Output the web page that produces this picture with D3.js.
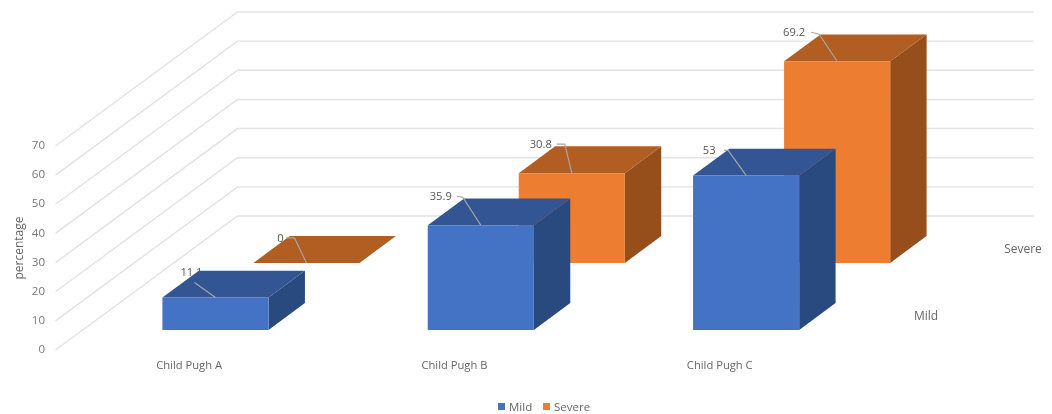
<!DOCTYPE html>
<html>
<head>
<meta charset="utf-8">
<script src="https://cdnjs.cloudflare.com/ajax/libs/d3/7.8.5/d3.min.js"></script>
<style>
  html, body { margin: 0; padding: 0; background: #fff; }
  svg { display: block; filter: blur(0.6px); }
  text { font-family: "Open Sans", "Noto Sans", sans-serif; fill: #666; }
</style>
</head>
<body>
<svg id="chart"></svg>
<script>
var categories = ["Child Pugh A", "Child Pugh B", "Child Pugh C"];
var seriesNames = ["Mild", "Severe"];
var mildValues = [11.1, 35.9, 53];
var severeValues = [0, 30.8, 69.2];
var yTicks = [0, 10, 20, 30, 40, 50, 60, 70];

var svgWidth = 1052;
var svgHeight = 414;

var colors = {
  Mild: { front: "#4472c4", top: "#335593", side: "#294a7f" },
  Severe: { front: "#ed7d31", top: "#b25d22", side: "#964f1b" }
};

// how far the floor runs back, in pixels
var depthX = 182;
var depthY = 134;

var svg = d3.select("#chart")
  .attr("width", svgWidth)
  .attr("height", svgHeight);

var x = d3.scaleBand()
  .domain(categories)
  .range([55.5, 851.5])
  .paddingInner(0.6)
  .paddingOuter(0.3);

var y = d3.scaleLinear()
  .domain([0, 70])
  .range([350, 146]);

// series run into the page, 0 = front of floor, 1 = back wall
var z = d3.scaleBand()
  .domain(seriesNames)
  .range([0, 1])
  .paddingInner(0.6)
  .paddingOuter(0.3);

function project(px, value, depth) {
  return [px + depth * depthX, y(value) - depth * depthY];
}

var line = d3.line();

// Gridlines
svg.append("g")
  .selectAll("path")
  .data(yTicks)
  .enter()
  .append("path")
    .attr("d", function(d) {
      return line([project(x.range()[0], d, 0), project(x.range()[0], d, 1), project(x.range()[1], d, 1)]);
    })
    .attr("fill", "none")
    .attr("stroke", "#e2e2e2")
    .attr("stroke-width", 1.4);

// Y axis
var yAxis = svg.append("g")
  .attr("transform", "translate(48,-1)")
  .call(d3.axisLeft(y).tickValues(yTicks).tickSize(0).tickPadding(3).tickFormat(d3.format("d")));
yAxis.select(".domain").remove();
yAxis.selectAll("text")
  .style("font-family", '"Open Sans", sans-serif')
  .style("font-size", "11.5px")
  .style("fill", "#777");

svg.append("text")
  .attr("transform", "translate(19,248) rotate(-90)")
  .attr("text-anchor", "middle")
  .attr("dy", "0.35em")
  .style("font-size", "12px")
  .text("percentage");

// Bars, back series first so the front one covers it
var bars = [];
seriesNames.slice().reverse().forEach(function(name) {
  var values = name === "Mild" ? mildValues : severeValues;
  categories.forEach(function(cat, i) {
    bars.push({ series: name, category: cat, index: i, value: values[i] });
  });
});

var barGroups = svg.append("g")
  .selectAll("g")
  .data(bars)
  .enter()
  .append("g");

function face(d, pts) {
  return line(pts.map(function(p) {
    return project(x(d.category) + p[0] * x.bandwidth(), p[1] * d.value, z(d.series) + p[2] * z.bandwidth());
  })) + "Z";
}

barGroups.append("path")
  .attr("d", function(d) { return face(d, [[1, 0, 0], [1, 0, 1], [1, 1, 1], [1, 1, 0]]); })
  .attr("fill", function(d) { return colors[d.series].side; });
barGroups.append("path")
  .attr("d", function(d) { return face(d, [[0, 1, 0], [0, 1, 1], [1, 1, 1], [1, 1, 0]]); })
  .attr("fill", function(d) { return colors[d.series].top; });
barGroups.append("path")
  .attr("d", function(d) { return face(d, [[0, 0, 0], [1, 0, 0], [1, 1, 0], [0, 1, 0]]); })
  .attr("fill", function(d) { return colors[d.series].front; });

// Data labels with leader lines, placed by hand relative to the top front edge
var labelNudges = {
  "Mild": [
    { text: [-24, -25], end: [-21, -15], joint: [-21, -15] },
    { text: [-40, -29], end: [-24, -29], joint: [-18, -28] },
    { text: [-37, -25], end: [-22, -25], joint: [-18, -25] }
  ],
  "Severe": [
    { text: [-26, -25], end: [-20, -25], joint: [-12, -25] },
    { text: [-31, -29], end: [-15, -29], joint: [-7, -29] },
    { text: [-43, -29], end: [-26, -29], joint: [-18, -27] }
  ]
};

function anchor(d) {
  return project(x(d.category) + x.bandwidth() / 2, d.value, z(d.series));
}

// labels go on top of every bar
var labelGroups = svg.append("g")
  .selectAll("g")
  .data(bars)
  .enter()
  .append("g");

labelGroups.append("path")
  .attr("d", function(d) {
    var a = anchor(d), n = labelNudges[d.series][d.index];
    return line([a, [a[0] + n.joint[0], a[1] + n.joint[1]], [a[0] + n.end[0], a[1] + n.end[1]]]);
  })
  .attr("fill", "none")
  .attr("stroke", "#a6a6a6")
  .attr("stroke-width", 1.2);

labelGroups.append("text")
  .attr("x", function(d) { return anchor(d)[0] + labelNudges[d.series][d.index].text[0]; })
  .attr("y", function(d) { return anchor(d)[1] + labelNudges[d.series][d.index].text[1]; })
  .attr("text-anchor", "middle")
  .attr("dy", "0.35em")
  .style("font-size", "11.2px")
  .style("fill", "#555")
  .text(function(d) { return d.value; });

// Category labels
svg.append("g")
  .selectAll("text")
  .data(categories)
  .enter()
  .append("text")
    .attr("x", function(d) { return x(d) + 54; })
    .attr("y", 365)
    .attr("text-anchor", "middle")
    .attr("dy", "0.35em")
    .style("font-size", "11.2px")
    .text(function(d) { return d; });

// Series labels along the depth axis
var seriesLabelShift = { Mild: 29, Severe: 35 };

svg.append("g")
  .selectAll("text")
  .data(seriesNames)
  .enter()
  .append("text")
    .attr("x", function(d) { return project(x.range()[1], 0, z(d) + z.bandwidth() / 2)[0] + seriesLabelShift[d]; })
    .attr("y", function(d) { return project(x.range()[1], 0, z(d) + z.bandwidth() / 2)[1] - 1; })
    .attr("text-anchor", "middle")
    .attr("dy", "0.35em")
    .style("font-size", "12px")
    .text(function(d) { return d; });

// Legend
var legend = svg.append("g")
  .selectAll("g")
  .data(seriesNames)
  .enter()
  .append("g")
    .attr("transform", function(d, i) { return "translate(" + (i === 0 ? 498 : 543) + ",403)"; });

legend.append("rect")
  .attr("width", 7)
  .attr("height", 7)
  .attr("fill", function(d) { return colors[d].front; });

legend.append("text")
  .attr("x", 11)
  .attr("y", 3.5)
  .attr("dy", "0.35em")
  .style("font-size", "11.5px")
  .text(function(d) { return d; });
</script>
</body>
</html>
